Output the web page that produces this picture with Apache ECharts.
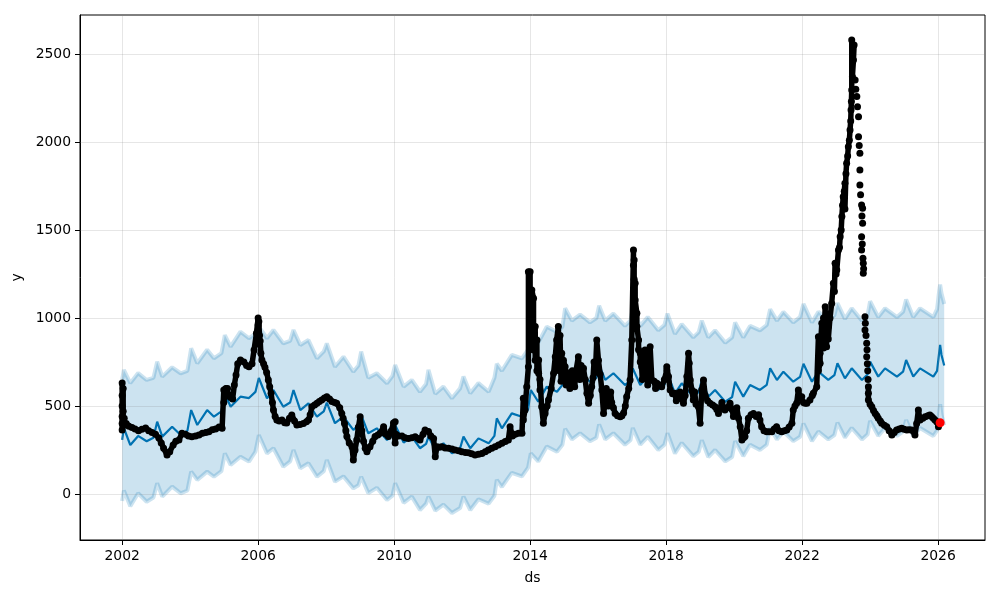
<!DOCTYPE html>
<html><head><meta charset="utf-8">
<script src="https://cdn.jsdelivr.net/npm/echarts@6/dist/echarts.min.js"></script>
<style>html,body{margin:0;padding:0;background:#fff}#c{width:1000px;height:600px}</style>
</head><body><div id="c"></div>
<script>
const xTicks = [2002, 2006, 2010, 2014, 2018, 2022, 2026];
const yTicks = [0, 500, 1000, 1500, 2000, 2500];

// observed points [decimal year, value], up to the 2023 peak
const observedA = [
[2002.00,630],[2002.00,560],[2002.00,500],[2002.00,440],[2002.00,400],[2002.00,364],
[2002.03,600],[2002.03,470],[2002.03,420],[2002.06,430],[2002.06,390],
[2002.12,400],[2002.20,385],[2002.29,378],[2002.38,370],[2002.48,360],[2002.58,368],[2002.69,375],[2002.78,360],[2002.88,350],[2002.98,340],
[2003.08,318],[2003.15,290],[2003.22,260],[2003.32,222],[2003.40,240],[2003.50,278],[2003.58,300],[2003.67,307],[2003.76,345],[2003.86,340],[2003.95,330],
[2004.05,325],[2004.16,330],[2004.26,335],[2004.36,345],[2004.46,350],[2004.55,354],[2004.65,365],[2004.75,370],[2004.85,380],[2004.94,373],
[2004.99,591],[2004.99,520],[2005.05,600],[2005.10,600],[2005.18,550],[2005.25,540],[2005.30,620],[2005.35,676],[2005.40,740],[2005.48,761],[2005.58,750],[2005.66,730],[2005.73,723],[2005.82,740],[2005.88,818],[2005.95,914],
[2006.00,1000],[2006.00,960],[2006.02,980],[2006.04,900],[2006.04,850],[2006.06,870],[2006.08,800],
[2006.11,761],[2006.16,740],[2006.20,720],[2006.25,690],[2006.30,648],[2006.34,610],[2006.38,572],[2006.42,520],[2006.45,477],[2006.50,440],[2006.55,420],[2006.62,415],[2006.70,420],[2006.78,405],[2006.84,403],[2006.92,430],[2006.99,449],
[2007.07,415],[2007.14,392],[2007.23,395],[2007.33,400],[2007.42,410],[2007.48,420],[2007.53,450],[2007.58,496],[2007.66,505],[2007.73,515],[2007.80,525],[2007.87,534],[2007.95,545],
[2008.02,553],[2008.10,540],[2008.17,525],[2008.25,520],[2008.31,515],[2008.40,490],[2008.46,458],[2008.50,430],[2008.54,400],[2008.58,360],[2008.61,326],[2008.68,290],[2008.76,269],[2008.80,193],[2008.85,250],[2008.90,307],[2008.95,380],
[2009.00,439],[2009.05,360],[2009.10,300],[2009.15,260],[2009.20,240],[2009.29,269],[2009.37,300],[2009.44,326],[2009.52,335],[2009.59,345],[2009.69,382],[2009.76,340],[2009.83,326],[2009.92,360],[2009.98,403],
[2010.03,411],[2010.03,290],[2010.05,340],[2010.13,330],[2010.23,330],[2010.32,320],[2010.42,316],[2010.52,320],[2010.62,325],[2010.70,315],[2010.76,307],[2010.85,340],[2010.91,364],
[2011.01,355],[2011.08,330],[2011.16,316],[2011.21,212],[2011.26,269],[2011.33,265],[2011.40,269],[2011.50,262],[2011.60,260],[2011.70,255],[2011.79,250],[2011.90,245],[2011.99,240],
[2012.10,236],[2012.19,234],[2012.28,228],[2012.38,222],[2012.48,226],[2012.58,230],[2012.68,240],[2012.77,250],[2012.87,260],[2012.97,269],
[2013.07,278],[2013.17,288],[2013.27,298],[2013.36,307],[2013.41,382],[2013.48,330],[2013.56,340],[2013.66,345],[2013.76,345],[2013.80,544],[2013.80,420],[2013.85,477],[2013.90,610],[2013.95,723],[2013.95,1263],
[2014.00,856],[2014.00,1263],[2014.00,1100],[2014.05,989],[2014.05,1159],[2014.10,1112],[2014.10,818],[2014.15,951],[2014.15,760],[2014.20,875],[2014.20,700],[2014.25,686],[2014.25,761],[2014.29,591],[2014.29,650],[2014.34,496],[2014.39,402],[2014.44,458],[2014.50,500],[2014.54,534],[2014.62,600],[2014.69,686],[2014.74,780],[2014.78,875],[2014.83,951],[2014.86,700],[2014.88,900],[2014.91,640],[2014.93,799],[2014.96,680],[2014.98,760],
[2015.03,723],[2015.06,620],[2015.08,690],[2015.13,667],[2015.17,600],[2015.20,655],[2015.24,700],[2015.27,648],[2015.31,610],[2015.35,700],[2015.42,780],[2015.46,650],[2015.50,730],[2015.54,670],[2015.57,714],[2015.62,650],[2015.67,572],[2015.72,515],[2015.77,560],[2015.81,610],[2015.85,660],[2015.88,750],[2015.92,690],[2015.96,875],
[2016.01,760],[2016.06,680],[2016.11,591],[2016.16,458],[2016.21,520],[2016.24,600],[2016.26,553],[2016.30,500],[2016.33,530],[2016.37,580],[2016.40,520],[2016.45,490],[2016.50,458],[2016.57,445],[2016.65,439],[2016.70,445],[2016.75,460],[2016.80,500],[2016.84,553],[2016.90,600],[2016.94,648],[2016.99,875],
[2017.04,1386],[2017.04,1300],[2017.06,1330],[2017.06,1220],[2017.09,1197],[2017.09,1102],[2017.14,1027],[2017.14,951],[2017.19,875],[2017.19,820],[2017.24,799],[2017.24,750],[2017.28,723],[2017.30,650],[2017.33,760],[2017.36,680],[2017.38,818],[2017.43,705],[2017.46,620],[2017.48,760],[2017.51,680],[2017.53,837],[2017.58,648],[2017.65,640],[2017.69,600],[2017.73,629],[2017.80,620],[2017.87,610],[2017.95,650],
[2018.02,705],[2018.02,723],[2018.07,667],[2018.12,591],[2018.19,570],[2018.26,572],[2018.30,530],[2018.34,560],[2018.41,580],[2018.46,540],[2018.51,515],[2018.56,560],[2018.61,667],[2018.66,799],[2018.68,743],[2018.71,648],[2018.76,590],[2018.80,534],[2018.84,580],[2018.88,510],[2018.95,496],
[2019.00,402],[2019.05,591],[2019.10,648],[2019.15,560],[2019.22,530],[2019.29,515],[2019.37,505],[2019.44,496],[2019.49,480],[2019.54,458],[2019.64,520],[2019.73,477],[2019.80,490],[2019.88,515],[2019.94,480],[2019.98,440],
[2020.03,470],[2020.08,490],[2020.13,430],[2020.18,382],[2020.23,307],[2020.28,320],[2020.32,326],[2020.37,360],[2020.42,430],[2020.50,450],[2020.57,458],[2020.65,440],[2020.72,450],[2020.76,420],[2020.81,382],[2020.88,360],[2020.96,354],
[2021.03,354],[2021.11,354],[2021.18,370],[2021.25,382],[2021.32,360],[2021.40,354],[2021.48,360],[2021.55,364],[2021.62,380],[2021.70,402],[2021.74,477],[2021.79,500],[2021.84,515],[2021.89,591],[2021.94,553],[2021.99,553],
[2022.04,520],[2022.09,515],[2022.14,515],[2022.23,534],[2022.30,560],[2022.33,572],[2022.43,610],
[2022.48,894],[2022.48,700],[2022.53,743],[2022.53,800],[2022.58,970],[2022.58,880],[2022.63,1000],[2022.63,830],[2022.68,1064],[2022.68,900],[2022.72,837],[2022.72,950],[2022.77,951],[2022.77,880],[2022.82,1000],[2022.87,1083],[2022.92,1197],[2022.95,1150],[2022.97,1311],
[2023.00,1250],[2023.02,1273],[2023.07,1386],[2023.10,1400],[2023.12,1462],[2023.15,1500],[2023.17,1576],[2023.19,1640],[2023.21,1689],[2023.24,1720],[2023.26,1765],[2023.26,1620],[2023.29,1820],[2023.31,1879],[2023.34,1920],[2023.36,1973],[2023.39,2010],[2023.41,2068],[2023.43,2120],[2023.44,2182],[2023.45,2230],[2023.46,2296],[2023.46,2580],[2023.48,2371],[2023.51,2466],[2023.53,2551]
];
// sparse points of the fall after the 2023 peak
const observedDrop = [
[2023.56,2352],[2023.58,2300],[2023.61,2258],[2023.63,2200],[2023.66,2144],[2023.66,2030],[2023.68,1980],[2023.70,1936],[2023.70,1841],[2023.70,1756],[2023.72,1700],[2023.75,1642],[2023.76,1580],[2023.75,1462],[2023.77,1420],[2023.75,1386],[2023.78,1623],[2023.78,1538],[2023.79,1340],[2023.80,1311],[2023.81,1280],[2023.80,1254],
[2023.85,1007],[2023.86,970],[2023.85,932],[2023.88,900],[2023.90,856],[2023.91,820],[2023.90,780],[2023.92,740],[2023.93,700],[2023.94,650]
];
// observed points after the fall
const observedB = [
[2023.95,610],[2023.95,572],[2023.95,534],
[2024.00,510],[2024.05,496],[2024.10,475],[2024.15,458],[2024.20,445],[2024.24,430],[2024.30,415],[2024.34,402],[2024.42,390],[2024.49,382],[2024.56,360],[2024.64,335],[2024.71,350],[2024.78,364],[2024.86,370],[2024.93,373],
[2025.00,368],[2025.08,364],[2025.15,365],[2025.22,364],[2025.28,355],[2025.32,335],[2025.37,400],[2025.42,477],[2025.47,420],[2025.55,430],[2025.62,439],[2025.70,445],[2025.76,449],[2025.81,440],[2025.86,430],[2025.91,420],[2025.96,411],[2026.01,382]
];

// forecast (yhat) with its interval
const fcYear  = [2002.00,2002.05,2002.24,2002.47,2002.72,2002.92,2003.03,2003.18,2003.47,2003.72,2003.92,2004.03,2004.21,2004.50,2004.70,2004.92,2005.02,2005.19,2005.48,2005.73,2005.92,2006.02,2006.26,2006.45,2006.74,2006.94,2007.04,2007.24,2007.48,2007.73,2007.93,2008.02,2008.26,2008.51,2008.80,2008.95,2009.03,2009.24,2009.49,2009.79,2009.95,2010.03,2010.28,2010.52,2010.76,2010.94,2011.01,2011.21,2011.45,2011.70,2011.94,2012.04,2012.24,2012.48,2012.78,2012.95,2013.02,2013.17,2013.46,2013.76,2013.94,2014.02,2014.24,2014.49,2014.79,2014.95,2015.03,2015.23,2015.47,2015.76,2015.95,2016.03,2016.21,2016.45,2016.79,2016.95,2017.02,2017.24,2017.46,2017.77,2017.95,2018.04,2018.26,2018.46,2018.80,2018.96,2019.05,2019.24,2019.44,2019.74,2019.94,2020.03,2020.27,2020.47,2020.76,2020.96,2021.06,2021.26,2021.45,2021.74,2021.94,2022.04,2022.29,2022.48,2022.77,2022.95,2023.04,2023.26,2023.46,2023.76,2023.93,2024.00,2024.24,2024.44,2024.79,2024.97,2025.06,2025.27,2025.47,2025.86,2025.97,2026.03,2026.06,2026.10,2026.18];
const fcYhat  = [307,375,278,330,300,320,411,326,382,335,360,477,392,477,439,470,572,496,553,545,580,659,544,591,496,520,591,477,515,439,470,519,402,439,364,390,449,345,373,307,330,392,292,326,260,285,326,250,288,231,260,326,260,316,288,330,430,373,458,439,480,591,524,610,581,620,714,648,686,638,660,733,648,686,619,645,714,619,667,591,620,686,572,629,553,580,648,553,591,524,550,638,553,619,591,620,714,648,695,638,665,740,638,695,648,675,743,657,714,648,680,752,667,714,667,695,761,667,714,667,700,800,847,790,730];
const fcUpper = [650,705,630,687,648,660,752,667,720,686,700,828,743,820,771,800,903,837,922,885,910,951,885,932,856,870,932,847,875,771,810,856,723,780,695,730,809,660,686,629,670,733,610,648,581,625,705,570,610,544,600,667,572,630,581,660,740,700,790,770,820,875,860,950,920,950,1055,985,1020,975,1000,1070,985,1025,955,985,1050,955,1005,930,960,1025,910,965,890,920,985,890,930,860,890,975,890,955,930,960,1050,985,1035,975,1005,1080,975,1035,985,1015,1085,995,1055,985,1020,1095,1005,1055,1005,1035,1105,1005,1055,1005,1050,1150,1190,1140,1080];
const fcLower = [-40,20,-70,4,-44,-20,61,-15,42,4,20,127,80,127,98,130,231,165,212,184,240,335,231,260,155,185,250,146,175,98,130,193,70,100,32,50,98,5,35,-34,-10,61,-50,-15,-91,-55,-15,-95,-60,-108,-80,-15,-91,-30,-55,-10,80,40,120,100,150,231,185,270,240,280,370,310,345,300,320,395,310,345,280,305,375,280,325,250,280,345,230,290,215,240,305,210,250,185,210,300,215,280,250,280,375,310,355,300,325,400,300,355,310,335,405,320,375,310,340,415,330,375,330,355,420,330,375,330,360,460,510,450,390];

// last observed point, highlighted
const lastPoint = [[2026.06, 405]];

const FONT = 'DejaVu Sans';
const chart = echarts.init(document.getElementById('c'), null, {renderer: 'canvas'});
const gridColor = 'rgba(128,128,128,0.2)';
const lineOf = (ys) => fcYear.map((x, i) => [x, ys[i]]);
const obsLine = (data) => ({
  type: 'line', z: 5, silent: true, showSymbol: false, data: data,
  lineStyle: {color: '#000', width: 5.5, join: 'round', cap: 'round'}
});

chart.setOption({
  animation: false,
  backgroundColor: '#fff',
  textStyle: {fontFamily: FONT},
  grid: {left: 80, right: 15, top: 15, bottom: 60, show: true, borderColor: '#000', borderWidth: 1, backgroundColor: 'transparent'},
  xAxis: {
    type: 'value', min: 2000.76, max: 2027.38,
    name: 'ds', nameLocation: 'middle', nameGap: 31,
    nameTextStyle: {fontFamily: FONT, fontSize: 13.9, color: '#000'},
    axisLine: {show: true, onZero: false, lineStyle: {color: '#000', width: 1}},
    axisTick: {show: true, length: 5, customValues: xTicks, lineStyle: {color: '#000', width: 1}},
    axisLabel: {show: true, customValues: xTicks, margin: 9, fontFamily: FONT, fontSize: 13.9, color: '#000', formatter: v => String(v)},
    splitLine: {show: false}
  },
  yAxis: {
    type: 'value', min: -261.4, max: 2721.6,
    name: 'y', nameLocation: 'middle', nameGap: 50,
    nameTextStyle: {fontFamily: FONT, fontSize: 13.9, color: '#000'},
    axisLine: {show: true, onZero: false, lineStyle: {color: '#000', width: 1}},
    axisTick: {show: true, length: 5, customValues: yTicks, lineStyle: {color: '#000', width: 1}},
    axisLabel: {show: true, customValues: yTicks, margin: 9, fontFamily: FONT, fontSize: 13.9, color: '#000', formatter: v => String(v)},
    splitLine: {show: false}
  },
  series: [
    {
      type: 'custom', z: 1, silent: true,
      data: [[fcYear[0], fcYhat[0]]],
      renderItem: function (params, api) {
        if (params.dataIndex !== 0) return null;
        const pts = [];
        for (let i = 0; i < fcYear.length; i++) pts.push(api.coord([fcYear[i], fcUpper[i]]));
        for (let i = fcYear.length - 1; i >= 0; i--) pts.push(api.coord([fcYear[i], fcLower[i]]));
        return {type: 'polygon', shape: {points: pts}, style: {fill: 'rgba(0,114,178,0.2)'}};
      }
    },
    {
      type: 'line', z: 2, silent: true, showSymbol: false, data: lineOf(fcUpper),
      lineStyle: {color: 'rgba(0,114,178,0.2)', width: 4}
    },
    {
      type: 'line', z: 3, silent: true, showSymbol: false, data: lineOf(fcLower),
      lineStyle: {color: 'rgba(0,114,178,0.2)', width: 4},
      markLine: {
        silent: true, symbol: 'none', label: {show: false}, animation: false,
        lineStyle: {color: gridColor, type: 'solid', width: 1},
        data: xTicks.map(v => ({xAxis: v})).concat(yTicks.map(v => ({yAxis: v})))
      }
    },
    {
      type: 'line', z: 4, silent: true, showSymbol: false, data: lineOf(fcYhat),
      lineStyle: {color: '#0072B2', width: 2.2}
    },
    obsLine(observedA),
    obsLine(observedB),
    {
      type: 'scatter', z: 6, silent: true, data: observedA.concat(observedDrop, observedB), symbolSize: 7,
      itemStyle: {color: '#000', opacity: 1}
    },
    {
      type: 'scatter', z: 7, silent: true, data: lastPoint, symbolSize: 9,
      itemStyle: {color: '#ff0000', opacity: 1}
    }
  ]
});
</script>
</body></html>
